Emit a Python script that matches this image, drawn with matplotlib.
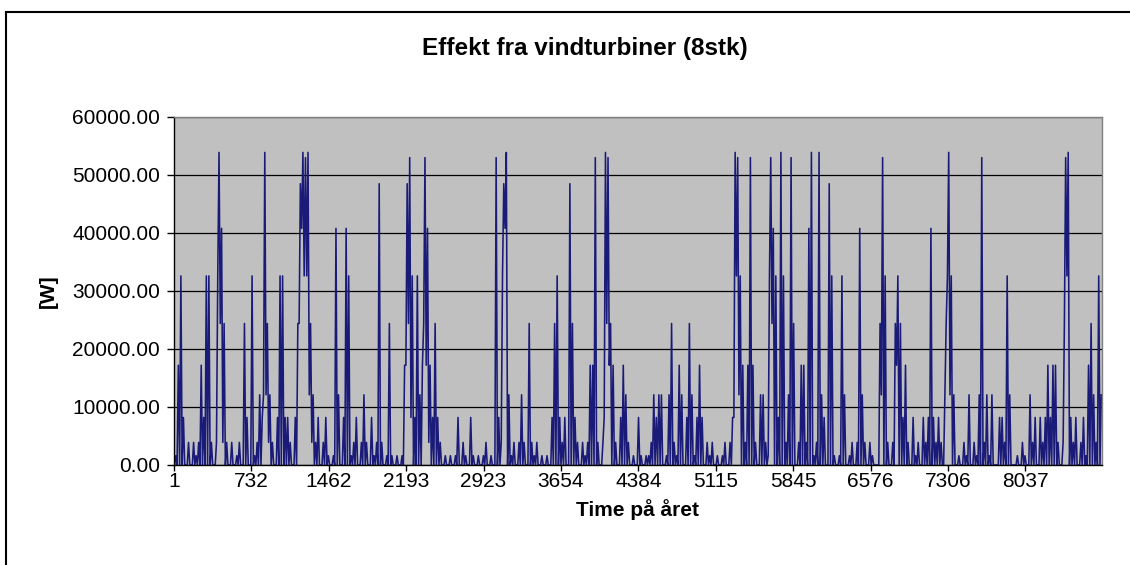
import numpy as np
import matplotlib
matplotlib.use("Agg")
import matplotlib.pyplot as plt
from matplotlib.lines import Line2D

plt.rcParams['font.family'] = ['Liberation Sans', 'DejaVu Sans']

title = "Effekt fra vindturbiner (8stk)"
x_label = "Time på året"
y_label = "[W]"
x_tick_labels = [1, 732, 1462, 2193, 2923, 3654, 4384, 5115, 5845, 6576, 7306, 8037]
y_ticks = [0, 10000, 20000, 30000, 40000, 50000, 60000]

# Daily maximum power [W] (one value per day)
daily_high = [
    1600, 17200, 32600, 8200, 0, 3900, 0, 3900, 1600, 3900, 17200, 8200, 32600, 32600, 3900, 0, 3900, 53900, 40800, 24400,
    3900, 0, 3900, 0, 1600, 3900, 0, 24400, 8200, 0, 32600, 1600, 3900, 12100, 8200, 53900, 24400, 12100, 3900, 0,
    8200, 32600, 32600, 8200, 8200, 3900, 0, 8200, 24400, 48500, 53900, 53000, 53900, 24400, 12100, 3900, 8200, 0, 3900, 8200,
    1600, 0, 1600, 40800, 12100, 0, 8200, 40800, 32600, 1600, 3900, 8200, 0, 3900, 12100, 3900, 0, 8200, 1600, 3900,
    48500, 3900, 0, 1600, 24400, 1600, 0, 1600, 0, 1600, 17200, 48500, 53000, 32600, 8200, 32600, 12100, 17200, 53000, 40800,
    17200, 8200, 24400, 8200, 3900, 0, 1600, 0, 1600, 0, 1600, 8200, 0, 3900, 1600, 0, 8200, 1600, 0, 1600,
    0, 1600, 3900, 0, 1600, 0, 53000, 8200, 3900, 48500, 53900, 12100, 1600, 3900, 0, 3900, 12100, 3900, 0, 24400,
    3900, 1600, 3900, 0, 1600, 0, 1600, 0, 8200, 24400, 32600, 8200, 3900, 8200, 0, 48500, 24400, 8200, 3900, 0,
    3900, 1600, 3900, 17200, 17200, 53000, 3900, 0, 3900, 53900, 53000, 24400, 17200, 3900, 0, 8200, 17200, 12100, 3900, 0,
    1600, 0, 8200, 1600, 0, 1600, 1600, 3900, 12100, 8200, 12100, 12100, 0, 1600, 12100, 24400, 3900, 1600, 17200, 12100,
    0, 8200, 24400, 12100, 1600, 8200, 17200, 8200, 0, 3900, 1600, 3900, 0, 1600, 0, 1600, 3900, 0, 3900, 8200,
    53900, 53000, 32600, 17200, 3900, 17200, 53000, 17200, 3900, 0, 12100, 12100, 3900, 1600, 53000, 40800, 32600, 8200, 53900, 32600,
    3900, 12100, 53000, 24400, 0, 3900, 17200, 17200, 3900, 40800, 53900, 1600, 3900, 53900, 12100, 8200, 0, 48500, 32600, 1600,
    0, 1600, 32600, 12100, 0, 1600, 3900, 0, 3900, 40800, 12100, 3900, 0, 3900, 1600, 0, 0, 24400, 53000, 32600,
    3900, 0, 3900, 24400, 32600, 24400, 8200, 17200, 3900, 0, 8200, 1600, 3900, 0, 8200, 3900, 8200, 40800, 8200, 3900,
    8200, 3900, 0, 24400, 53900, 32600, 12100, 0, 1600, 0, 3900, 1600, 12100, 0, 3900, 1600, 12100, 53000, 3900, 12100,
    1600, 12100, 0, 0, 8200, 8200, 3900, 32600, 12100, 0, 0, 1600, 0, 3900, 1600, 0, 12100, 3900, 8200, 0,
    8200, 3900, 8200, 17200, 8200, 17200, 17200, 3900, 0, 3900, 53000, 53900, 8200, 3900, 8200, 0, 3900, 8200, 1600, 17200,
    24400, 12100, 3900, 32600, 12100,
]

# Daily minimum power [W] (one value per day)
daily_low = [
    0, 0, 0, 0, 0, 0, 0, 0, 0, 0, 0, 0, 0, 0, 0, 0, 0, 32600, 24400, 3900,
    0, 0, 0, 0, 0, 0, 0, 0, 0, 0, 0, 0, 0, 0, 0, 12100, 12100, 3900, 0, 0,
    0, 0, 0, 0, 0, 0, 0, 0, 0, 24400, 40800, 32600, 32600, 12100, 3900, 0, 0, 0, 0, 0,
    0, 0, 0, 0, 0, 0, 0, 0, 0, 0, 0, 0, 0, 0, 0, 0, 0, 0, 0, 0,
    0, 0, 0, 0, 0, 0, 0, 0, 0, 0, 0, 17200, 24400, 8200, 0, 0, 0, 0, 24400, 17200,
    3900, 0, 0, 0, 0, 0, 0, 0, 0, 0, 0, 0, 0, 0, 0, 0, 0, 0, 0, 0,
    0, 0, 0, 0, 0, 0, 0, 0, 0, 32600, 40800, 0, 0, 0, 0, 0, 0, 0, 0, 0,
    0, 0, 0, 0, 0, 0, 0, 0, 0, 0, 0, 0, 0, 0, 0, 0, 0, 0, 0, 0,
    0, 0, 0, 0, 0, 0, 0, 0, 0, 8200, 24400, 17200, 0, 0, 0, 0, 0, 0, 0, 0,
    0, 0, 0, 0, 0, 0, 0, 0, 0, 0, 0, 0, 0, 0, 0, 0, 0, 0, 0, 0,
    0, 0, 0, 0, 0, 0, 0, 0, 0, 0, 0, 0, 0, 0, 0, 0, 0, 0, 0, 0,
    8200, 32600, 12100, 0, 0, 0, 0, 0, 0, 0, 0, 0, 0, 0, 32600, 24400, 0, 0, 0, 0,
    0, 0, 0, 0, 0, 0, 0, 0, 0, 0, 0, 0, 0, 0, 0, 0, 0, 0, 0, 0,
    0, 0, 0, 0, 0, 0, 0, 0, 0, 0, 0, 0, 0, 0, 0, 0, 0, 0, 12100, 0,
    0, 0, 0, 0, 17200, 0, 0, 0, 0, 0, 0, 0, 0, 0, 0, 0, 0, 0, 0, 0,
    0, 0, 0, 12100, 32600, 12100, 0, 0, 0, 0, 0, 0, 0, 0, 0, 0, 0, 0, 0, 0,
    0, 0, 0, 0, 0, 0, 0, 0, 0, 0, 0, 0, 0, 0, 0, 0, 0, 0, 0, 0,
    0, 0, 0, 0, 0, 0, 0, 0, 0, 0, 24400, 32600, 0, 0, 0, 0, 0, 0, 0, 0,
    0, 0, 0, 0, 0,
]

n_days = min(len(daily_high), len(daily_low))
day_start = np.arange(n_days) * 24
hours = np.column_stack([day_start + 6, day_start + 18]).ravel()
power = np.column_stack([daily_low[:n_days], daily_high[:n_days]]).ravel()

W, H = 1130, 565
fig = plt.figure(figsize=(W / 100, H / 100), dpi=100)
fig.patch.set_facecolor('white')

# chart frame (left and top edges visible)
fig.add_artist(Line2D([6 / W, 6 / W], [0, 1 - 12 / H], transform=fig.transFigure, color='black', lw=1.5))
fig.add_artist(Line2D([6 / W, 1], [1 - 12 / H, 1 - 12 / H], transform=fig.transFigure, color='black', lw=1.5))

left, right, top, bottom = 174, 1102, 117, 465
ax = fig.add_axes([left / W, (H - bottom) / H, (right - left) / W, (bottom - top) / H])
ax.set_facecolor('#C0C0C0')

ax.plot(hours, power, color='#1a1a78', lw=1.15)

ax.set_xlim(1, 8761)
ax.set_ylim(0, 60000)
ax.set_yticks(y_ticks)
ax.set_yticklabels([f"{v:.2f}" for v in y_ticks])
ax.set_xticks(x_tick_labels)
ax.set_xticklabels([str(v) for v in x_tick_labels])
ax.grid(axis='y', color='black', lw=0.9)
ax.set_axisbelow(True)

for s in ['top', 'right']:
    ax.spines[s].set_color('#808080')
    ax.spines[s].set_linewidth(1.0)
for s in ['left', 'bottom']:
    ax.spines[s].set_color('black')
    ax.spines[s].set_linewidth(1.0)

ax.tick_params(axis='both', direction='out', length=5, width=1, color='black', labelsize=15)
ax.tick_params(axis='x', length=4, pad=1)
ax.tick_params(axis='y', pad=5)

ax.set_xlabel(x_label, fontsize=15, fontweight='bold', labelpad=6)
ax.set_ylabel(y_label, fontsize=15, fontweight='bold', labelpad=10)
fig.text(585 / W, 1 - 48 / H, title, ha='center', va='center',
         fontsize=17.5, fontweight='bold')

fig.savefig('out.png', dpi=100)
